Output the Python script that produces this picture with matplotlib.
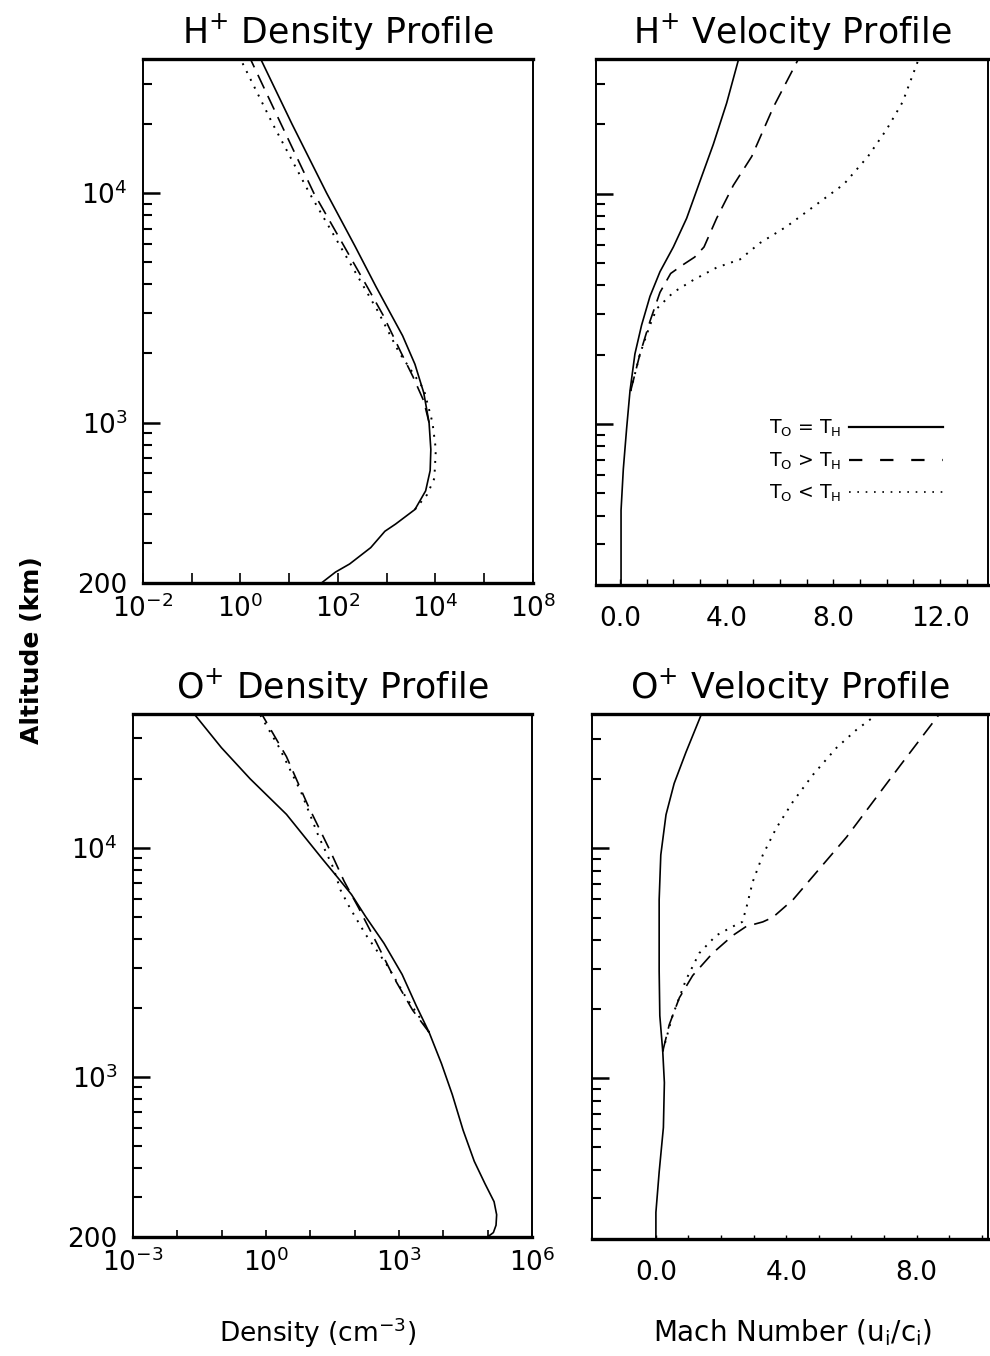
import matplotlib
matplotlib.use("Agg")
import matplotlib.pyplot as plt
from matplotlib.ticker import NullLocator
from matplotlib.lines import Line2D

plt.rcParams['font.family'] = ['DejaVu Sans']
plt.rcParams['mathtext.fontset'] = 'dejavusans'

# ---- data (altitude in km) ----
# H+ density (cm^-3)
hd_solid_alt = [200, 223, 242, 285, 336, 361, 418, 504, 618, 763, 1000, 1350, 1795, 2390, 3900, 5880, 10000, 20000, 38400]
hd_solid_n = [46, 89, 174, 470, 920, 1520, 3800, 6300, 7800, 8050, 7400, 5750, 3800, 2120, 607, 223, 58.6, 11.4, 2.6]
hd_dash_alt = [1000, 1243, 1585, 2027, 2930, 3900, 10000, 20000, 38400]
hd_dash_n = [7400, 5750, 3460, 1950, 850, 400, 32, 6.8, 1.6]
hd_dot_alt = [418, 447, 485, 571, 763, 1000, 1400, 2027, 3055, 3900, 10000, 20000, 38400]
hd_dot_n = [3800, 4900, 6750, 9500, 10200, 8700, 5750, 1780, 660, 340, 26, 4.6, 1.0]

# H+ velocity (Mach number)
hv_solid_alt = [200, 422, 637, 959, 1390, 2014, 2685, 3581, 4581, 5861, 7816, 11324, 16368, 24717, 38400]
hv_solid_m = [0.04, 0.04, 0.125, 0.25, 0.375, 0.56, 0.81, 1.125, 1.5, 2.0, 2.5, 3.0, 3.5, 4.0, 4.45]
hv_dash_alt = [1390, 2014, 2793, 3727, 4500, 4900, 5300, 5861, 7816, 10860, 14490, 23710, 38400]
hv_dash_m = [0.40, 0.75, 1.125, 1.5, 1.9, 2.35, 2.8, 3.15, 3.625, 4.25, 4.94, 5.75, 6.69]
hv_dot_alt = [1390, 2014, 2685, 3162, 3727, 4217, 4775, 5180, 6105, 7197, 9210, 11000, 14500, 19000, 25000, 38400]
hv_dot_m = [0.40, 0.75, 1.125, 1.375, 2.0, 2.75, 3.625, 4.5, 5.25, 6.25, 7.5, 8.4, 9.3, 10.0, 10.6, 11.2]

# O+ density (cm^-3)
od_solid_alt = [200, 209, 225, 250, 285, 342, 428, 585, 836, 1143, 1563, 2046, 2799, 3828, 5000, 6252, 7482, 8933, 13996, 20000, 27353, 38400]
od_solid_n = [1.0e5, 1.35e5, 1.55e5, 1.6e5, 1.4e5, 8.7e4, 5.0e4, 2.8e4, 1.6e4, 9100, 4800, 2450, 1180, 460, 178, 85, 40, 18.8, 2.9, 0.44, 0.099, 0.024]
od_dash_alt = [1563, 1954, 2673, 3828, 5470, 7145, 9780, 15280, 25000, 38400]
od_dash_n = [4800, 2040, 800, 316, 123, 58, 27.5, 8.9, 2.9, 0.80]
od_dot_alt = [1563, 1710, 2239, 3055, 4178, 5470, 6546, 8185, 11190, 17500, 27353, 38400]
od_dot_n = [4800, 3630, 1410, 550, 178, 78, 48, 33, 15.5, 6.2, 2.0, 0.72]

# O+ velocity (Mach number)
ov_solid_alt = [200, 261, 391, 611, 957, 1309, 1871, 2924, 5984, 9354, 13996, 19143, 26122, 38400]
ov_solid_m = [0.0, 0.0, 0.10, 0.23, 0.26, 0.21, 0.12, 0.10, 0.10, 0.15, 0.31, 0.56, 0.92, 1.40]
ov_dash_alt = [1309, 1710, 2239, 2799, 3499, 4178, 4571, 4786, 5012, 5984, 8185, 11190, 15996, 22856, 38400]
ov_dash_m = [0.21, 0.41, 0.72, 1.13, 1.74, 2.36, 2.77, 3.28, 3.59, 4.21, 5.03, 5.85, 6.67, 7.49, 8.7]
ov_dot_alt = [1309, 1871, 2673, 3499, 4178, 4571, 4786, 5470, 7145, 9354, 12218, 15996, 20893, 27353, 32734, 38400]
ov_dot_m = [0.21, 0.51, 0.92, 1.33, 1.85, 2.36, 2.65, 2.77, 2.97, 3.28, 3.69, 4.21, 4.82, 5.54, 6.15, 6.8]

legend_labels = [r'T$_\mathsf{O}$ = T$_\mathsf{H}$', r'T$_\mathsf{O}$ > T$_\mathsf{H}$', r'T$_\mathsf{O}$ < T$_\mathsf{H}$']

alt_major = [200, 1000, 10000]
alt_major_labels = ['200', r'$10^{3}$', r'$10^{4}$']
alt_minor = [300, 400, 500, 600, 700, 800, 900, 2000, 3000, 4000, 5000, 6000, 7000, 8000, 9000, 20000, 30000]

DASH = (0, (9, 5))
DOT = (0, (1, 3.5))
LW = 1.2
TICKFS = 19


def frame(ax, left_labels):
    ax.set_yscale('log')
    ax.set_ylim(200, 38400)
    ax.set_yticks(alt_major, alt_major_labels if left_labels else [''] * 3)
    ax.set_yticks(alt_minor, minor=True)
    ax.tick_params(axis='y', which='major', direction='in', length=12, width=1.8,
                   labelsize=TICKFS, pad=11)
    ax.tick_params(axis='y', which='minor', direction='in', length=6.5, width=1.5,
                   labelleft=False)
    for s in ['top', 'bottom']:
        ax.spines[s].set_linewidth(2.4)
    for s in ['left', 'right']:
        ax.spines[s].set_linewidth(1.4)


def curves(ax, sets):
    for (x, y), ls in zip(sets, ['-', DASH, DOT]):
        ax.plot(x, y, color='black', lw=LW if ls != DOT else 1.4, linestyle=ls)


fig = plt.figure(figsize=(9.9, 13.56), dpi=100)

# H+ density
ax1 = fig.add_axes([0.1444, 0.5701, 0.3939, 0.3864])
curves(ax1, [(hd_solid_n, hd_solid_alt), (hd_dash_n, hd_dash_alt), (hd_dot_n, hd_dot_alt)])
frame(ax1, True)
ax1.set_xscale('log')
ax1.set_xlim(1e-2, 1e6)
dec1 = [1e-2, 1e-1, 1e0, 1e1, 1e2, 1e3, 1e4, 1e5, 1e6]
ax1.set_xticks(dec1, [r'$10^{-2}$', '', r'$10^{0}$', '', r'$10^{2}$', '', r'$10^{4}$', '', r'$10^{8}$'])
ax1.xaxis.set_minor_locator(NullLocator())
ax1.tick_params(axis='x', direction='in', length=7, width=1.2, labelsize=TICKFS, pad=8)
ax1.set_title(r'H$^{+}$ Density Profile', fontsize=25, pad=11)

# H+ velocity
ax2 = fig.add_axes([0.602, 0.5686, 0.396, 0.3879])
curves(ax2, [(hv_solid_m, hv_solid_alt), (hv_dash_m, hv_dash_alt), (hv_dot_m, hv_dot_alt)])
frame(ax2, False)
ax2.set_xlim(-0.9, 13.8)
ax2.set_xticks(range(0, 14), [(f'{v}.0' if v % 4 == 0 else '') for v in range(0, 14)])
ax2.tick_params(axis='x', direction='in', length=4, width=1.0, labelsize=TICKFS, pad=15)
ax2.set_title(r'H$^{+}$ Velocity Profile', fontsize=25, pad=11)
handles = [Line2D([], [], color='black', lw=1.6, linestyle='-'),
           Line2D([], [], color='black', lw=1.6, linestyle=(0, (6, 8))),
           Line2D([], [], color='black', lw=1.2, linestyle=(0, (1, 4)))]
ax2.legend(handles, legend_labels, markerfirst=False, frameon=False, fontsize=13.5,
           handlelength=5.0, handletextpad=0.4, labelspacing=0.6,
           loc='upper right', bbox_to_anchor=(0.885, 0.318), borderaxespad=0, borderpad=0)

# O+ density
ax3 = fig.add_axes([0.1343, 0.0878, 0.403, 0.3857])
curves(ax3, [(od_solid_n, od_solid_alt), (od_dash_n, od_dash_alt), (od_dot_n, od_dot_alt)])
frame(ax3, True)
ax3.set_xscale('log')
ax3.set_xlim(1e-3, 1e6)
dec3 = [10.0 ** k for k in range(-3, 7)]
ax3.set_xticks(dec3, [r'$10^{-3}$', '', '', r'$10^{0}$', '', '', r'$10^{3}$', '', '', r'$10^{6}$'])
ax3.xaxis.set_minor_locator(NullLocator())
ax3.tick_params(axis='x', direction='in', length=5, width=1.2, labelsize=TICKFS, pad=8)
ax3.set_title(r'O$^{+}$ Density Profile', fontsize=25, pad=11)

# O+ velocity
ax4 = fig.add_axes([0.598, 0.0863, 0.4, 0.3872])
curves(ax4, [(ov_solid_m, ov_solid_alt), (ov_dash_m, ov_dash_alt), (ov_dot_m, ov_dot_alt)])
frame(ax4, False)
ax4.set_xlim(-1.96, 10.19)
ax4.set_xticks(range(0, 11), [(f'{v}.0' if v % 4 == 0 else '') for v in range(0, 11)])
ax4.tick_params(axis='x', direction='in', length=3, width=1.0, labelsize=TICKFS, pad=15)
ax4.set_title(r'O$^{+}$ Velocity Profile', fontsize=25, pad=11)

fig.text(0.032, 0.5206, 'Altitude (km)', rotation=90, fontsize=18, fontweight='bold',
         ha='center', va='center')
fig.text(0.321, 0.017, r'Density (cm$^{-3}$)', fontsize=19, ha='center', va='center')
fig.text(0.801, 0.017, r'Mach Number (u$_\mathsf{i}$/c$_\mathsf{i}$)', fontsize=20, ha='center', va='center')

fig.savefig('out.png', dpi=100, facecolor='white')
